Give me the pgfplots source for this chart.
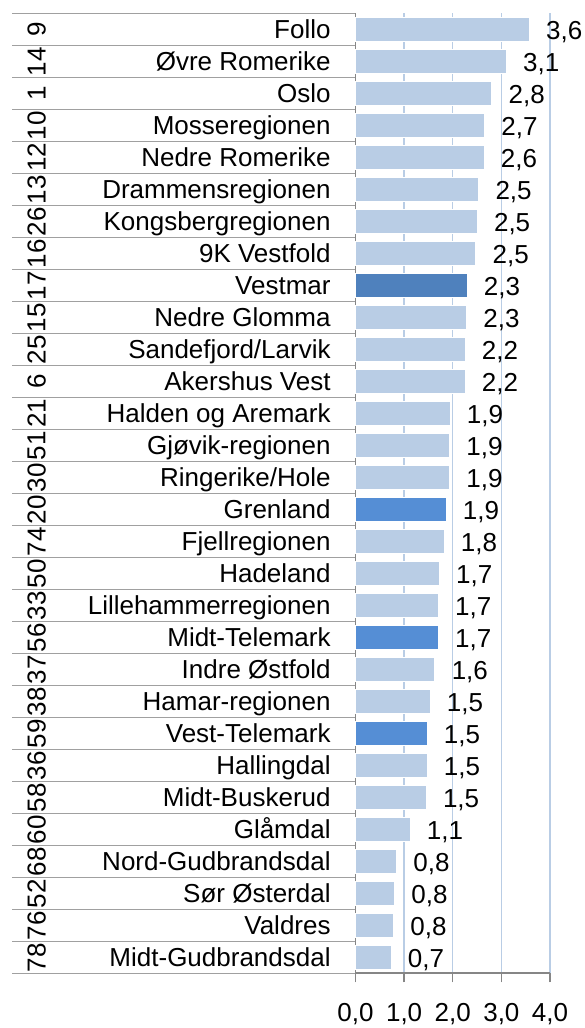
\documentclass[border=0pt]{standalone}
\usepackage{pgfplots}
\pgfplotsset{compat=1.18}
\usepackage{pgfplotstable}
\usepackage{fontspec}
\setmainfont{Liberation Sans}
\definecolor{barlight}{HTML}{B9CDE5}
\definecolor{bardark}{HTML}{4F81BD}
\definecolor{barmid}{HTML}{558ED5}
\definecolor{gridblue}{HTML}{B9CDE5}
\definecolor{axgray}{HTML}{868686}
\definecolor{sepgray}{HTML}{A0A0A0}
\newcommand\lbl[2]{\makebox[147pt][l]{\makebox[0pt]{\rotatebox[origin=c]{90}{#1}}\hfill #2}}
\pgfplotstableread{
y x label
29 3.57 3,6
28 3.10 3,1
27 2.80 2,8
26 2.65 2,7
25 2.64 2,6
24 2.53 2,5
23 2.50 2,5
22 2.47 2,5
20 2.28 2,3
19 2.25 2,2
18 2.25 2,2
17 1.94 1,9
16 1.93 1,9
15 1.93 1,9
13 1.82 1,8
12 1.72 1,7
11 1.70 1,7
9 1.63 1,6
8 1.53 1,5
6 1.47 1,5
5 1.45 1,5
4 1.12 1,1
3 0.84 0,8
2 0.80 0,8
1 0.78 0,8
0 0.73 0,7
}\lighttab
\pgfplotstableread{
y x label
21 2.29 2,3
}\darktab
\pgfplotstableread{
y x label
14 1.86 1,9
10 1.70 1,7
7 1.47 1,5
}\midtab
\begin{document}
\begin{tikzpicture}
\useasboundingbox (-177.75pt,-27.35pt) rectangle (114.25pt,486.65pt);
\begin{axis}[
  at={(0,0)}, anchor=south west,
  scale only axis, width=97.25pt, height=480pt,
  xbar, bar width=0.75, bar shift=0,
  xmin=0, xmax=4, ymin=-0.5, ymax=29.5,
  enlargelimits=false, clip=false,
  axis x line*=bottom, axis y line*=left,
  axis line style={axgray, line width=0.9pt},
  xtick={0,1,2,3,4},
  xticklabels={{0,0},{1,0},{2,0},{3,0},{4,0}},
  tick align=outside,
  xtick style={axgray, line width=0.7pt},
  major tick length=4.5pt,
  xmajorgrids, major grid style={gridblue, line width=0.75pt},
  xticklabel style={font=\fontsize{13}{15}\selectfont, anchor=base, inner sep=0pt, yshift=-19.6pt},
  ytick={0,...,29},
  ytick style={draw=none},
  yticklabels={
    \lbl{78}{Midt-Gudbrandsdal},
    \lbl{76}{Valdres},
    \lbl{52}{Sør Østerdal},
    \lbl{68}{Nord-Gudbrandsdal},
    \lbl{60}{Glåmdal},
    \lbl{58}{Midt-Buskerud},
    \lbl{36}{Hallingdal},
    \lbl{59}{Vest-Telemark},
    \lbl{38}{Hamar-regionen},
    \lbl{37}{Indre Østfold},
    \lbl{56}{Midt-Telemark},
    \lbl{33}{Lillehammerregionen},
    \lbl{50}{Hadeland},
    \lbl{74}{Fjellregionen},
    \lbl{20}{Grenland},
    \lbl{30}{Ringerike/Hole},
    \lbl{51}{Gjøvik-regionen},
    \lbl{21}{Halden og Aremark},
    \lbl{6}{Akershus Vest},
    \lbl{25}{Sandefjord/Larvik},
    \lbl{15}{Nedre Glomma},
    \lbl{17}{Vestmar},
    \lbl{16}{9K Vestfold},
    \lbl{26}{Kongsbergregionen},
    \lbl{13}{Drammensregionen},
    \lbl{12}{Nedre Romerike},
    \lbl{10}{Mosseregionen},
    \lbl{1}{Oslo},
    \lbl{14}{Øvre Romerike},
    \lbl{9}{Follo}},
  yticklabel style={font=\fontsize{13}{15}\selectfont, anchor=base east, inner sep=0pt, xshift=-7.75pt, yshift=-4.65pt},
  nodes near coords={\pgfplotspointmeta},
  point meta=explicit symbolic,
  every node near coord/.append style={font=\fontsize{13}{15}\selectfont, anchor=base west, inner sep=0pt, xshift=8.35pt, yshift=-4.9pt, text=black},
]
\pgfplotsinvokeforeach{0,...,30}{
  \draw[sepgray, line width=0.6pt] (axis cs:0,#1-0.5) -- ([xshift=-171.75pt]axis cs:0,#1-0.5);
}
\addplot[fill=barlight, draw=white, line width=0.3pt] table[x=x, y=y, meta=label] {\lighttab};
\addplot[fill=bardark, draw=white, line width=0.3pt] table[x=x, y=y, meta=label] {\darktab};
\addplot[fill=barmid, draw=white, line width=0.3pt] table[x=x, y=y, meta=label] {\midtab};
\end{axis}
\end{tikzpicture}
\end{document}
